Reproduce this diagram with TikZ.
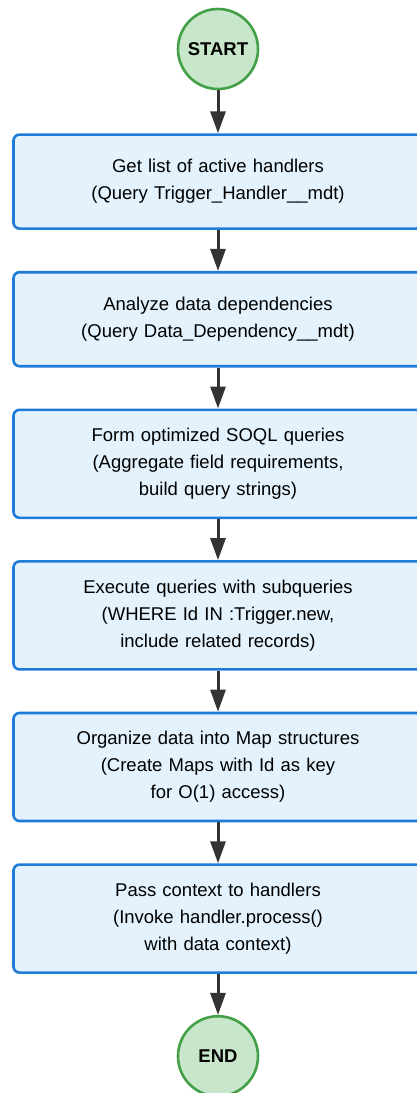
\documentclass[tikz,border=0pt]{standalone}
\usepackage{fontspec}
\setmainfont{Liberation Sans}
\usepackage{xcolor}
\usetikzlibrary{positioning,arrows.meta}
\definecolor{stepfill}{HTML}{E3F2FD}
\definecolor{stepline}{HTML}{1E7BD8}
\definecolor{termfill}{HTML}{C8E6C9}
\definecolor{termline}{HTML}{43A047}
\definecolor{arrline}{HTML}{333333}

\begin{document}
\begin{tikzpicture}[
  node distance=41pt,
  box/.style={draw=stepline, fill=stepfill, line width=2.6pt, rounded corners=6pt, align=center,
    font=\fontsize{18.5}{27}\selectfont, text width=390pt, minimum width=409pt, minimum height=94pt, inner sep=0pt},
  tall/.style={box, minimum height=108pt},
  term/.style={circle, draw=termline, fill=termfill, line width=2.6pt, minimum size=80pt, inner sep=0pt,
    font=\fontsize{18.5}{22}\selectfont\bfseries},
  arr/.style={-{Triangle[length=22pt, width=15pt]}, line width=3pt, draw=arrline}
]
\useasboundingbox (0,0) rectangle (417pt,-1093pt);
\node[term] (start) at (218pt,-49pt) {START};
\node[box, below=43pt of start] (handlers) {Get list of active handlers\\(Query Trigger\_Handler\_\_mdt)};
\node[box, below=of handlers] (deps) {Analyze data dependencies\\(Query Data\_Dependency\_\_mdt)};
\node[tall, below=of deps] (form) {Form optimized SOQL queries\\(Aggregate field requirements,\\build query strings)};
\node[tall, below=of form] (exec) {Execute queries with subqueries\\(WHERE Id IN :Trigger.new,\\include related records)};
\node[tall, below=of exec] (maps) {Organize data into Map structures\\(Create Maps with Id as key\\for O(1) access)};
\node[tall, below=of maps] (pass) {Pass context to handlers\\(Invoke handler.process()\\with data context)};
\node[term, below=of pass] (stop) {END};
\draw[arr] (start) -- (handlers);
\draw[arr] (handlers) -- (deps);
\draw[arr] (deps) -- (form);
\draw[arr] (form) -- (exec);
\draw[arr] (exec) -- (maps);
\draw[arr] (maps) -- (pass);
\draw[arr] (pass) -- (stop);
\end{tikzpicture}
\end{document}
